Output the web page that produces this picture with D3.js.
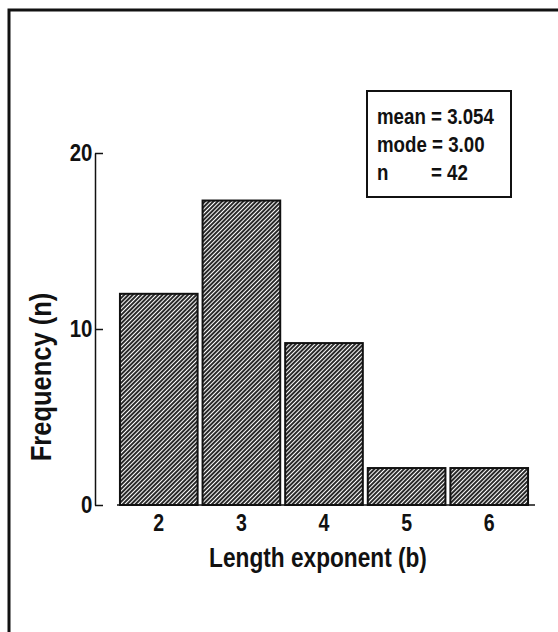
<!DOCTYPE html>
<html>
<head>
<meta charset="utf-8">
<script src="https://cdn.jsdelivr.net/npm/d3@7"></script>
<style>
  body { margin: 0; background: #fff; }
  text { font-family: "Liberation Sans", Arial, sans-serif; fill: #111; }
</style>
</head>
<body>
<svg id="chart"></svg>
<script>
// histogram values
const categories = ["2", "3", "4", "5", "6"];
const frequency = [12, 17.3, 9.2, 2.1, 2.1];
const yTicks = [0, 10, 20];
const statLines = ["mean = 3.054", "mode = 3.00", "n"];
const statValues = ["", "", "= 42"];

let svgWidth = 558, svgHeight = 632;
let margin = {left: 95, top: 153, right: 25, bottom: 126};
let width = svgWidth - margin.left - margin.right;
let height = svgHeight - margin.top - margin.bottom;

let svg = d3.select("#chart")
    .attr("width", svgWidth)
    .attr("height", svgHeight);

// condensed look: squeeze text horizontally
function narrowText(parent, x, y, str, size, anchor, rotate, sx) {
    return parent.append("g")
        .attr("transform", `translate(${x}, ${y}) rotate(${rotate || 0}) scale(${sx || 0.85}, 1)`)
        .append("text")
        .attr("text-anchor", anchor || "start")
        .attr("font-size", size)
        .attr("font-weight", "bold")
        .text(str);
}

// hatch fill for the bars
let defs = svg.append("defs");
defs.append("pattern")
    .attr("id", "hatch")
    .attr("patternUnits", "userSpaceOnUse")
    .attr("width", 3)
    .attr("height", 3)
    .attr("patternTransform", "rotate(45)")
    .append("line")
    .attr("x1", 1).attr("y1", -1)
    .attr("x2", 1).attr("y2", 4)
    .attr("stroke", "#111")
    .attr("stroke-width", 1.8);

// outer frame (runs off the right and bottom edge)
svg.append("rect")
    .attr("x", 9).attr("y", 10)
    .attr("width", 560).attr("height", 640)
    .attr("fill", "none")
    .attr("stroke", "#111")
    .attr("stroke-width", 3);

let g = svg.append("g")
    .attr("transform", `translate(${margin.left}, ${margin.top})`);

let xScale = d3.scaleBand()
    .domain(categories)
    .range([115 - margin.left, 533 - margin.left])
    .paddingInner(0.06)
    .paddingOuter(0.06);

let yScale = d3.scaleLinear()
    .domain([0, 20])
    .range([height - 1, 0]);

// bars
g.selectAll("rect.bar")
    .data(frequency)
    .enter()
    .append("rect")
    .attr("class", "bar")
    .attr("x", (d, i) => xScale(categories[i]))
    .attr("y", d => yScale(d))
    .attr("width", xScale.bandwidth())
    .attr("height", d => yScale(0) - yScale(d))
    .attr("fill", "url(#hatch)")
    .attr("stroke", "#111")
    .attr("stroke-width", 2);

// baseline (starts a little right of the y axis, as in the original)
g.append("line")
    .attr("x1", 117 - margin.left).attr("x2", 535 - margin.left)
    .attr("y1", yScale(0)).attr("y2", yScale(0))
    .attr("stroke", "#111")
    .attr("stroke-width", 1.5);

// y axis, ticks pointing inward
let yAxis = d3.axisLeft(yScale)
    .tickValues(yTicks)
    .tickSizeInner(-8)
    .tickSizeOuter(0)
    .tickPadding(3);

let yG = g.append("g").call(yAxis);
yG.select(".domain").attr("stroke", "#111").attr("stroke-width", 1.5);
yG.selectAll(".tick line").attr("stroke", "#111").attr("stroke-width", 1.5);
yG.selectAll(".tick text")
    .attr("font-size", 24)
    .attr("font-weight", "bold")
    .attr("transform", "scale(0.85, 1)")
    .style("font-family", '"Liberation Sans", Arial, sans-serif')
    .style("fill", "#111");

// x axis labels only
let xAxis = d3.axisBottom(xScale).tickSize(0).tickPadding(10);
let xG = g.append("g")
    .attr("transform", `translate(0, ${yScale(0)})`)
    .call(xAxis);
xG.select(".domain").remove();
xG.selectAll(".tick text")
    .attr("font-size", 23)
    .attr("font-weight", "bold")
    .attr("transform", "scale(0.85, 1)")
    .style("font-family", '"Liberation Sans", Arial, sans-serif')
    .style("fill", "#111");

// axis titles
narrowText(svg, 318, 567, "Length exponent (b)", 27, "middle", 0, 0.84);
narrowText(svg, 51, 377, "Frequency (n)", 30, "middle", -90, 0.85);

// stats box
svg.append("rect")
    .attr("x", 367).attr("y", 91)
    .attr("width", 144).attr("height", 106)
    .attr("fill", "#fff")
    .attr("stroke", "#111")
    .attr("stroke-width", 2);

statLines.forEach((s, i) => {
    narrowText(svg, 377, 124 + i * 28, s, 22);
    if (statValues[i]) {
        narrowText(svg, 431, 124 + i * 28, statValues[i], 22);
    }
});
</script>
</body>
</html>
